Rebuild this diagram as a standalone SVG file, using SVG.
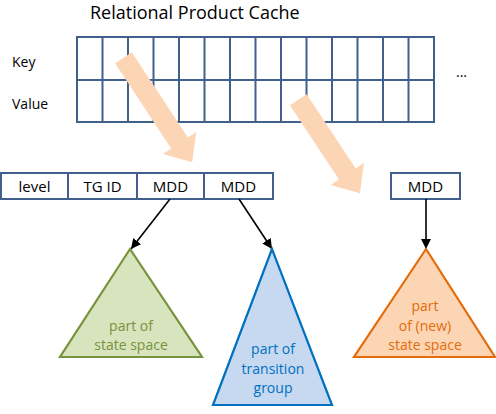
<svg xmlns="http://www.w3.org/2000/svg" width="496" height="414" viewBox="0 0 496 414">
<defs>
<style>
.t{font-family:"Open Sans","Liberation Sans",sans-serif;fill:#000}
.grid{fill:none;stroke:#41608C;stroke-width:2}
.box{fill:#fff;stroke:#41608C;stroke-width:2}
.big{fill:#FCD5B4}
.con{stroke:#000;stroke-width:1.6;fill:none;marker-end:url(#ah)}
.lbl{font-family:"Open Sans","Liberation Sans",sans-serif;font-size:14px;text-anchor:middle}
.bl{font-family:"Open Sans","Liberation Sans",sans-serif;font-size:15px;text-anchor:middle}
</style>
<marker id="ah" markerWidth="10" markerHeight="10" viewBox="0 0 10 10" refX="10" refY="5" orient="auto" markerUnits="userSpaceOnUse">
<path d="M0,0 L10,5 L0,10 Z" fill="#000"/>
</marker>
</defs>
<g id="cache">
<text class="t" x="90" y="19" font-size="18">Relational Product Cache</text>
<text class="t" x="12" y="67" font-size="14">Key</text>
<text class="t" x="12" y="109" font-size="14">Value</text>
<text class="t" x="456" y="77" font-size="14">...</text>
<rect class="grid" x="77" y="37" width="357" height="85"/>
<path class="grid" d="M77,80H434 M102.5,37V122 M128,37V122 M153.5,37V122 M179,37V122 M204.5,37V122 M230,37V122 M255.5,37V122 M281,37V122 M306.5,37V122 M332,37V122 M357.5,37V122 M383,37V122 M408.5,37V122"/>
</g>
<g id="bigarrows">
<polygon class="big" points="0,-10 102,-10 102,-20 125,0 102,20 102,10 0,10" transform="translate(123.5,57.7) rotate(56.7)"/>
<polygon class="big" points="0,-10 89,-10 89,-20 112,0 89,20 89,10 0,10" transform="translate(298.3,99.7) rotate(56.6)"/>
</g>
<g id="record">
<rect class="box" x="1" y="173" width="67" height="26"/>
<rect class="box" x="68" y="173" width="69" height="26"/>
<rect class="box" x="137" y="173" width="67" height="26"/>
<rect class="box" x="204" y="173" width="69" height="26"/>
<text class="bl" x="34.5" y="191.5">level</text>
<text class="bl" x="102.5" y="191.5">TG ID</text>
<text class="bl" x="170.5" y="191.5">MDD</text>
<text class="bl" x="238.5" y="191.5">MDD</text>
</g>
<g id="mdd3">
<rect class="box" x="391" y="173" width="69" height="26"/>
<text class="bl" x="425.5" y="191.5">MDD</text>
</g>
<g id="connectors">
<line class="con" x1="170" y1="199" x2="131" y2="249"/>
<line class="con" x1="239" y1="199" x2="272" y2="249"/>
<line class="con" x1="426" y1="199" x2="426" y2="249"/>
</g>
<g id="green">
<polygon points="130,249 60,357 202,357" fill="#D7E4BD" stroke="#77933C" stroke-width="2.2"/>
<text class="lbl" x="131" y="331" fill="#77933C">part of</text>
<text class="lbl" x="131" y="350" fill="#77933C">state space</text>
</g>
<g id="blue">
<polygon points="272,249 213,405 332,405" fill="#C6D9F1" stroke="#0070C0" stroke-width="2.2"/>
<text class="lbl" x="273" y="354" fill="#0070C0">part of</text>
<text class="lbl" x="273" y="374" fill="#0070C0">transition</text>
<text class="lbl" x="273" y="393" fill="#0070C0">group</text>
</g>
<g id="orange">
<polygon points="426,249 354,357 495,357" fill="#FCD5B4" stroke="#E46C0A" stroke-width="2.2"/>
<text class="lbl" x="425" y="311" fill="#E46C0A">part</text>
<text class="lbl" x="425" y="331" fill="#E46C0A">of (new)</text>
<text class="lbl" x="425" y="350" fill="#E46C0A">state space</text>
</g>
</svg>
